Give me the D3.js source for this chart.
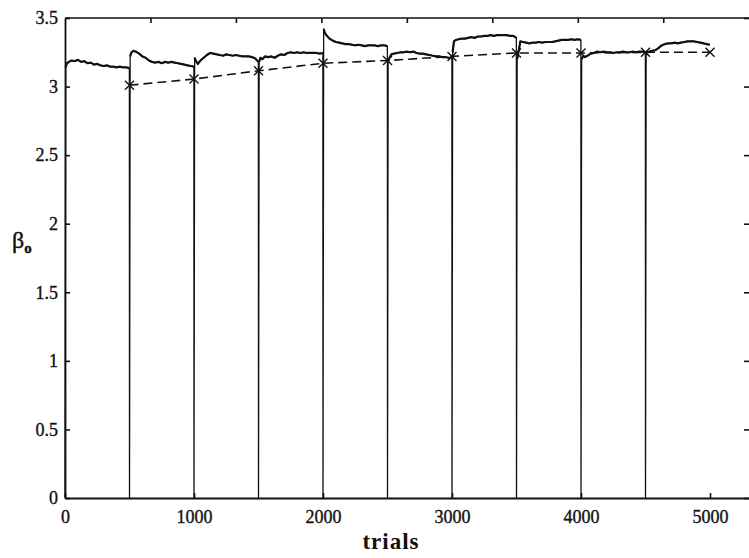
<!DOCTYPE html>
<html><head><meta charset="utf-8">
<script src="https://cdn.jsdelivr.net/npm/d3@7"></script>
<style>
html,body{margin:0;padding:0;background:#fff;}
svg{display:block;}
.tick text{font-family:"Liberation Serif","DejaVu Serif",serif;font-size:18px;fill:#111;stroke:#111;stroke-width:0.35px;}
</style></head>
<body>
<svg id="chart" width="749" height="558"></svg>
<script>
// ---- data ----
const xTicks = [0, 1000, 2000, 3000, 4000, 5000];
const yTicks = [0, 0.5, 1, 1.5, 2, 2.5, 3, 3.5];
const topTicks = [662.5, 1325, 1987.5, 2650, 3312.5, 3975, 4637.5];
const runStarts = [0, 500, 1000, 1500, 2000, 2500, 3000, 3500, 4000, 4500];
const offsets = [0, 5, 15, 30, 50, 75, 100, 125, 150, 175, 200, 225, 250, 275, 300, 325, 350, 375, 400, 425, 450, 475, 499];
const run1  = [0, 3.14, 3.17, 3.18, 3.19, 3.185, 3.195, 3.18, 3.185, 3.17, 3.175, 3.16, 3.165, 3.155, 3.15, 3.155, 3.145, 3.145, 3.14, 3.145, 3.14, 3.14, 3.135];
const run2  = [0, 3.22, 3.25, 3.26, 3.255, 3.24, 3.22, 3.21, 3.19, 3.18, 3.175, 3.18, 3.17, 3.18, 3.175, 3.18, 3.175, 3.17, 3.165, 3.16, 3.155, 3.15, 3.145];
const run3  = [0, 3.21, 3.185, 3.165, 3.19, 3.21, 3.23, 3.245, 3.24, 3.235, 3.23, 3.225, 3.235, 3.23, 3.225, 3.23, 3.225, 3.22, 3.22, 3.22, 3.215, 3.205, 3.18];
const run4  = [0, 3.18, 3.21, 3.2, 3.22, 3.215, 3.22, 3.21, 3.225, 3.235, 3.23, 3.245, 3.25, 3.245, 3.25, 3.245, 3.25, 3.245, 3.245, 3.245, 3.245, 3.24, 3.245];
const run5  = [0, 3.42, 3.39, 3.37, 3.35, 3.335, 3.325, 3.32, 3.315, 3.31, 3.31, 3.305, 3.30, 3.305, 3.30, 3.295, 3.30, 3.30, 3.30, 3.295, 3.30, 3.30, 3.295];
const run6  = [0, 3.18, 3.21, 3.235, 3.24, 3.245, 3.25, 3.25, 3.255, 3.25, 3.255, 3.245, 3.24, 3.24, 3.235, 3.23, 3.225, 3.22, 3.22, 3.215, 3.215, 3.21, 3.21];
const run7  = [0, 3.25, 3.33, 3.34, 3.345, 3.35, 3.35, 3.355, 3.36, 3.355, 3.365, 3.365, 3.37, 3.37, 3.375, 3.37, 3.375, 3.375, 3.375, 3.375, 3.37, 3.37, 3.355];
const run8  = [0, 3.2, 3.25, 3.33, 3.325, 3.32, 3.315, 3.32, 3.32, 3.325, 3.32, 3.325, 3.325, 3.325, 3.33, 3.335, 3.34, 3.34, 3.34, 3.345, 3.34, 3.345, 3.34];
const run9  = [0, 3.2, 3.22, 3.215, 3.225, 3.24, 3.245, 3.255, 3.25, 3.255, 3.25, 3.25, 3.245, 3.25, 3.25, 3.255, 3.25, 3.25, 3.255, 3.25, 3.255, 3.255, 3.25];
const run10 = [0, 3.23, 3.25, 3.255, 3.26, 3.265, 3.28, 3.30, 3.31, 3.315, 3.315, 3.32, 3.315, 3.32, 3.325, 3.33, 3.33, 3.33, 3.325, 3.32, 3.315, 3.31, 3.305];
const runs = [run1, run2, run3, run4, run5, run6, run7, run8, run9, run10];
const avgTrials = [500, 1000, 1500, 2000, 2500, 3000, 3500, 4000, 4500, 5000];
const avgValues = [3.01, 3.055, 3.115, 3.17, 3.19, 3.22, 3.245, 3.245, 3.25, 3.25];

// ---- chart ----
const svg = d3.select("#chart");
const x = d3.scaleLinear().domain([0, 5310]).range([65, 750]);
const y = d3.scaleLinear().domain([0, 3.5]).range([498, 18]);
const ink = "#111";

const series = [];
runs.forEach((r, k) => r.forEach((v, i) => series.push([runStarts[k] + offsets[i], v])));
const tops = runs.map((r, k) => r.map((v, i) => [runStarts[k] + offsets[i], v]).slice(1));

// top frame line
svg.append("line").attr("x1", x(0)).attr("x2", 750).attr("y1", y(3.5)).attr("y2", y(3.5))
  .attr("stroke", ink).attr("stroke-width", 1.6);

// axes
const gL = svg.append("g").attr("transform", `translate(${x(0)},0)`)
  .call(d3.axisLeft(y).tickValues(yTicks).tickFormat(d3.format("")).tickSizeInner(-5).tickSizeOuter(0).tickPadding(7));
const gB = svg.append("g").attr("transform", `translate(0,${y(0)})`)
  .call(d3.axisBottom(x).tickValues(xTicks).tickFormat(d3.format("")).tickSizeInner(-5).tickSizeOuter(0).tickPadding(12));
const gR = svg.append("g").attr("transform", `translate(749,0)`)
  .call(d3.axisRight(y).tickValues(yTicks).tickFormat("").tickSizeInner(-5).tickSizeOuter(0));
const gT = svg.append("g").attr("transform", `translate(0,${y(3.5)})`)
  .call(d3.axisTop(x).tickValues(topTicks).tickFormat("").tickSizeInner(-5).tickSizeOuter(0));
[gL, gB, gR, gT].forEach(g => {
  g.selectAll(".domain").attr("stroke", ink).attr("stroke-width", 1.8);
  g.selectAll(".tick line").attr("stroke", ink).attr("stroke-width", 1.6);
});
gR.select(".domain").remove();
gT.select(".domain").remove();

// solid learning curve: thin full path (with drops to 0), thicker top parts
const line = d3.line().x(d => x(d[0])).y(d => y(d[1]));
svg.append("path").datum(series).attr("d", line)
  .attr("fill", "none").attr("stroke", ink).attr("stroke-width", 1.3).attr("stroke-linejoin", "round");
svg.append("g").selectAll("path").data(tops).join("path").attr("d", line)
  .attr("fill", "none").attr("stroke", ink).attr("stroke-width", 2.2).attr("stroke-linejoin", "round");

// dashed average line
const avg = avgTrials.map((t, i) => [t, avgValues[i]]);
svg.append("path").datum(avg).attr("d", line)
  .attr("fill", "none").attr("stroke", ink).attr("stroke-width", 1.6).attr("stroke-dasharray", "9,5");

// x markers
svg.append("g").selectAll("path").data(avg).join("path")
  .attr("d", "M-4.5,-4.5L4.5,4.5M-4.5,4.5L4.5,-4.5")
  .attr("transform", d => `translate(${x(d[0])},${y(d[1])})`)
  .attr("fill", "none").attr("stroke", ink).attr("stroke-width", 1.4);

// labels
svg.append("text").attr("x", 391).attr("y", 549).attr("text-anchor", "middle")
  .attr("font-family", "Liberation Serif, serif").attr("font-weight", "bold")
  .attr("font-size", 23).attr("letter-spacing", 1).attr("fill", ink).text("trials");
const yl = svg.append("text").attr("x", 12).attr("y", 248)
  .attr("font-family", "Liberation Serif, serif").attr("font-size", 24).attr("fill", ink)
  .attr("stroke", ink).attr("stroke-width", 0.4);
yl.append("tspan").text("β");
yl.append("tspan").attr("dy", 5).attr("font-size", 15).attr("font-weight", "bold").text("o");
</script>
</body></html>
